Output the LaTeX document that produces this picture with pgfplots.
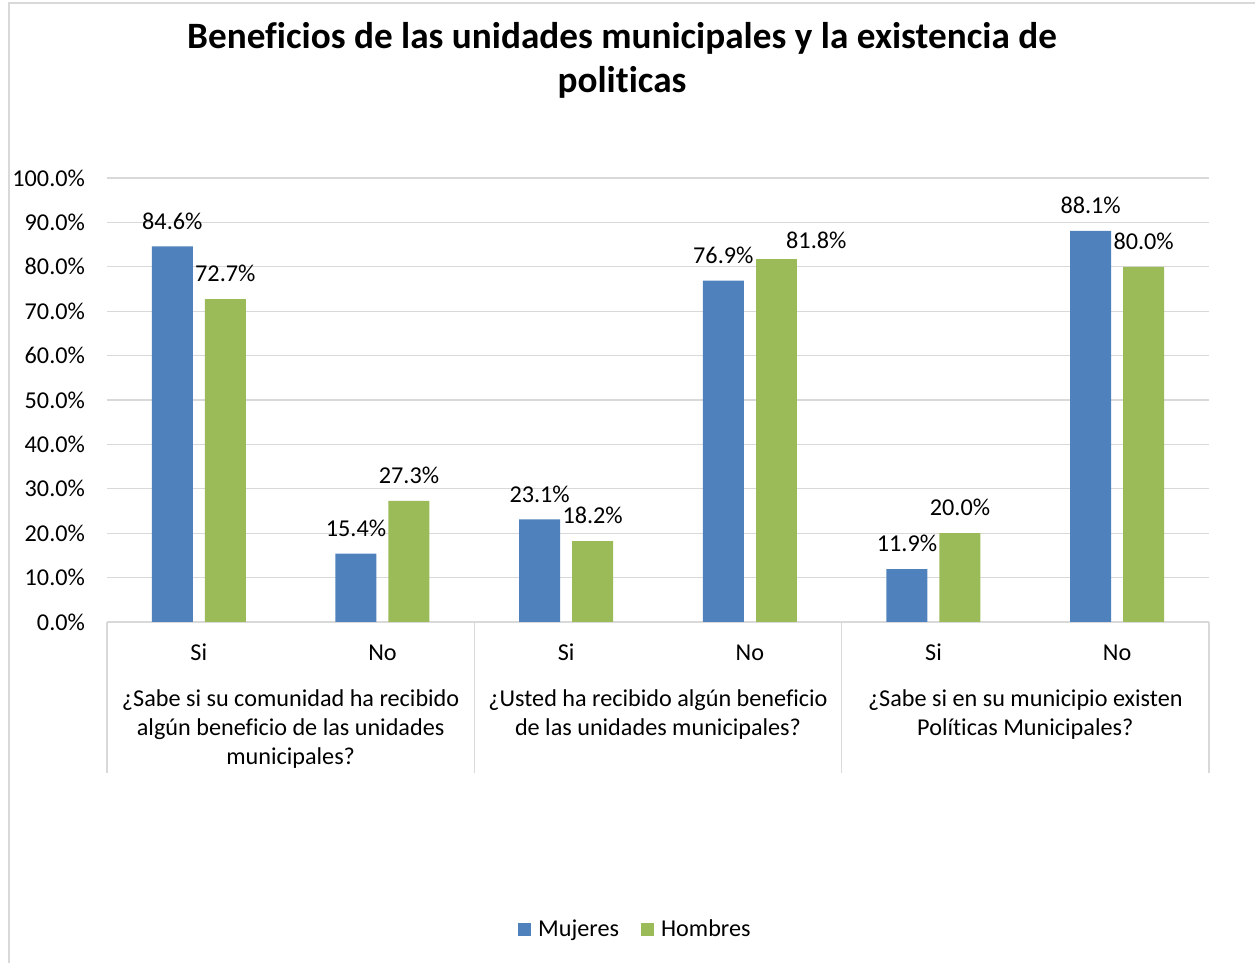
\documentclass[border=0pt]{standalone}
\usepackage{fontspec}
\setmainfont[Ligatures=NoCommon]{Carlito}
\usepackage{pgfplots}
\pgfplotsset{compat=1.18}
\definecolor{mblue}{HTML}{4F81BD}
\definecolor{hgreen}{HTML}{9BBB59}
\definecolor{lgray}{HTML}{D9D9D9}

\begin{document}
\begin{tikzpicture}[font=\fontsize{12.1}{14.5}\selectfont]
\path[use as bounding box] (-53.5pt,-170.5pt) rectangle (574pt,311pt);
\draw[lgray, line width=0.8pt] (-49pt,-170.5pt) -- (-49pt,309.5pt) -- (574pt,309.5pt);

\node[font=\fontsize{18.6}{22}\selectfont\bfseries] at (257.5pt,292pt) {Beneficios de las unidades municipales y la existencia de};
\node[font=\fontsize{18.6}{22}\selectfont\bfseries] at (257.5pt,270pt) {politicas};

\begin{axis}[
    at={(0pt,0pt)}, anchor=south west,
    scale only axis,
    width=551pt, height=222pt,
    ybar,
    bar width=20.5pt,
    xmin=-0.5, xmax=5.5,
    ymin=0, ymax=100,
    ytick={0,10,...,100},
    xtick={0,...,5},
    xticklabels={Si,No,Si,No,Si,No},
    xticklabel style={anchor=base, yshift=-19.5pt},
    yticklabel={\pgfmathprintnumber[fixed,fixed zerofill,precision=1]{\tick}\%},
    yticklabel style={xshift=-7.5pt},
    /pgf/number format/assume math mode=true,
    major tick length=0pt,
    axis x line*=bottom,
    axis y line*=left,
    y axis line style={draw=none},
    x axis line style={lgray, line width=0.8pt},
    ymajorgrids,
    grid style={lgray, line width=0.6pt},
    clip=false,
    nodes near coords={\pgfmathprintnumber[fixed,fixed zerofill,precision=1]{\pgfplotspointmeta}\%},
    every node near coord/.append style={text=black, yshift=5pt},
    legend columns=2,
    legend style={at={(0.4818,-0.6937)}, anchor=center, draw=none, fill=none,
        nodes={inner xsep=3.5pt},
        /tikz/every even column/.append style={column sep=7.5pt}},
    legend cell align=left,
    legend image code/.code={\fill[#1] (0pt,-3.25pt) rectangle (6.5pt,3.25pt);},
]
% Mujeres
\addplot[fill=mblue, draw=none, bar shift=-13.25pt] coordinates {(0,84.6) (1,15.4) (2,23.1) (3,76.9) (4,11.9) (5,88.1)};
% Hombres
\addplot[fill=hgreen, draw=none, bar shift=13.25pt] coordinates {(0,72.7) (1,27.3) (2,18.2) (4,20.0) (5,80.0)};
% Hombres, second question "No": its label sits to the right
\addplot[fill=hgreen, draw=none, bar shift=13.25pt, forget plot,
    every node near coord/.append style={xshift=20pt, yshift=-3.5pt}] coordinates {(3,81.8)};
\legend{Mujeres,Hombres}

\draw[lgray, line width=0.8pt] (axis cs:-0.5,0) -- ([yshift=-75.5pt]axis cs:-0.5,0);
\draw[lgray, line width=0.8pt] (axis cs:1.5,0) -- ([yshift=-75.5pt]axis cs:1.5,0);
\draw[lgray, line width=0.8pt] (axis cs:3.5,0) -- ([yshift=-75.5pt]axis cs:3.5,0);
\draw[lgray, line width=0.8pt] (axis cs:5.5,0) -- ([yshift=-75.5pt]axis cs:5.5,0);
\node[anchor=base] at ([yshift=-42.5pt]axis cs:0.5,0) {¿Sabe si su comunidad ha recibido};
\node[anchor=base] at ([yshift=-57pt]axis cs:0.5,0) {algún beneficio de las unidades};
\node[anchor=base] at ([yshift=-71.5pt]axis cs:0.5,0) {municipales?};
\node[anchor=base] at ([yshift=-42.5pt]axis cs:2.5,0) {¿Usted ha recibido algún beneficio};
\node[anchor=base] at ([yshift=-57pt]axis cs:2.5,0) {de las unidades municipales?};
\node[anchor=base] at ([yshift=-42.5pt]axis cs:4.5,0) {¿Sabe si en su municipio existen};
\node[anchor=base] at ([yshift=-57pt]axis cs:4.5,0) {Políticas Municipales?};
\end{axis}
\end{tikzpicture}
\end{document}
